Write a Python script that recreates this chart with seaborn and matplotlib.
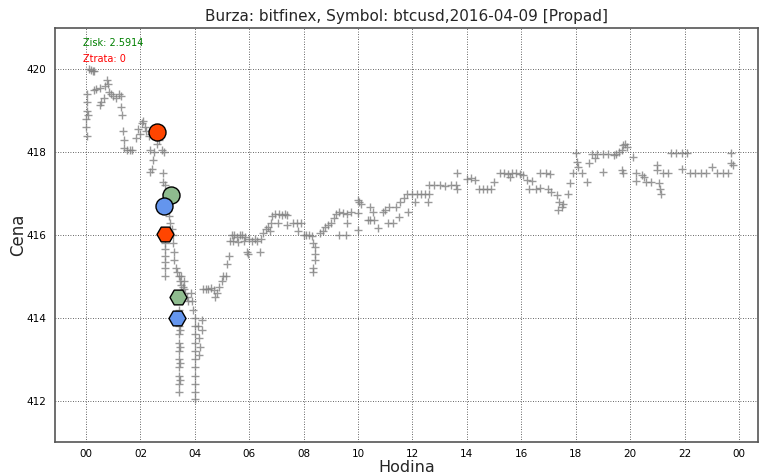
import matplotlib
matplotlib.use("Agg")
import matplotlib.pyplot as plt
import seaborn as sns
import pandas as pd
from matplotlib.ticker import FuncFormatter

# ---- data (hours of day, price) ----
hours = [
    0.00, 0.00, 0.02, 0.03, 0.05, 0.05, 0.08, 0.12, 0.18, 0.25, 0.30,
    0.30, 0.35, 0.50, 0.50, 0.55, 0.65, 0.70, 0.78, 0.82, 0.85, 0.90, 1.00,
    1.10, 1.20, 1.28, 1.30, 1.32, 1.35, 1.38, 1.40, 1.50, 1.60, 1.70,
    1.85, 1.90, 2.00, 2.05, 2.10, 2.15, 2.20, 2.30, 2.40, 2.50,
    2.35, 2.50, 2.60, 2.70, 2.80, 2.85, 2.45, 2.42, 2.35, 2.83, 2.83,
    2.90, 2.95, 3.00, 3.00, 3.05, 3.10, 3.15, 3.20,
    2.90, 2.90, 2.90, 2.90, 2.90, 2.90, 2.90,
    3.20, 3.22, 3.25, 3.30, 3.35, 3.40, 3.45, 3.50, 3.55, 3.60, 3.50, 3.60,
    3.65, 3.70, 3.75,
    3.40, 3.40, 3.42, 3.40, 3.40, 3.40, 3.42, 3.40, 3.40, 3.42, 3.45, 3.45,
    3.45, 3.45,
    3.85, 3.90, 3.95, 4.00, 4.00, 4.00, 4.00, 4.02, 4.00, 4.00, 4.02, 4.00,
    4.00, 4.00,
    4.10, 4.15, 4.20, 4.15, 4.25, 4.26,
    4.30, 4.40, 4.50, 4.60, 4.70, 4.75, 4.80, 4.90, 5.00, 5.05, 5.15, 5.20,
    5.25, 5.30, 5.35, 5.45, 5.55, 5.65, 5.75, 5.85, 5.40, 5.60, 5.80, 5.90,
    5.95, 6.00, 6.10, 6.20, 6.30, 6.40, 6.45, 6.50, 6.60, 6.70, 6.75, 6.80,
    6.85, 6.95, 7.10, 7.20, 7.30, 7.40, 7.05, 7.40, 7.60, 7.75, 7.90, 7.80,
    8.00, 8.10, 8.20, 8.30, 8.35, 8.40, 8.40, 8.40, 8.35, 8.35, 8.60, 8.70,
    8.80, 8.90, 9.00, 9.10, 9.20, 9.30, 9.45, 9.60, 9.75, 9.30, 9.55, 9.60,
    10.00, 10.05, 10.10, 10.00, 10.00, 10.45, 10.55, 10.35, 10.45, 10.60,
    10.75, 10.90, 11.00, 11.15, 11.10, 11.30, 11.40, 11.55, 11.70, 11.80,
    11.50, 11.85, 12.00, 12.15, 12.30, 12.45, 12.60, 12.10, 12.57, 12.60,
    12.80, 13.00, 13.20, 13.40, 13.60, 13.65, 13.65, 14.00, 14.15, 14.30,
    14.45, 14.60, 14.75, 14.90, 15.00, 15.20, 15.35, 15.50, 15.65, 15.80,
    15.95, 16.05, 15.60, 16.20, 16.40, 16.30, 16.55, 16.70, 16.90, 17.05,
    16.70, 17.00, 17.10, 17.30, 17.40, 17.50, 17.35, 17.55, 17.70, 17.80,
    17.90, 18.00, 18.05, 18.10, 18.25, 18.40, 18.50, 18.70, 18.60, 18.80,
    19.00, 19.20, 19.40, 19.00, 19.50, 19.60, 19.70, 19.75, 19.80, 19.90,
    19.70, 19.75, 20.10, 20.20, 20.20, 20.45, 20.50, 20.60, 20.75, 21.00,
    21.00, 21.20, 21.40, 21.05, 21.10, 21.15, 21.50, 21.70, 21.90, 22.10,
    21.90, 22.20, 22.40, 22.60, 22.80, 23.00, 23.20, 23.40, 23.60, 23.70,
    23.70, 23.80,
]
prices = [
    418.6, 418.8, 419.0, 418.4, 419.2, 419.4, 418.9, 420.0, 419.98, 419.95, 419.97,
    419.5, 419.52, 419.55, 419.15, 419.2, 419.3, 419.6, 419.75, 419.65, 419.45, 419.4, 419.35,
    419.3, 419.4, 419.35, 419.1, 418.9, 418.5, 418.3, 418.1, 418.05, 418.05, 418.05,
    418.35, 418.55, 418.45, 418.7, 418.75, 418.6, 418.5, 418.4, 418.45, 418.5,
    418.05, 418.0, 418.2, 418.3, 418.05, 418.0, 417.8, 417.6, 417.52, 417.5, 417.28,
    417.2, 417.0, 416.85, 416.6, 416.45, 416.3, 416.15, 416.0,
    416.0, 415.8, 415.65, 415.5, 415.35, 415.2, 415.0,
    415.8, 415.6, 415.4, 415.2, 415.1, 415.0, 414.9, 414.8, 414.75, 414.7, 415.0, 414.9,
    414.6, 414.5, 414.4,
    414.2, 413.8, 413.6, 413.4, 413.2, 413.0, 412.8, 412.6, 412.4, 412.2, 413.7, 413.3,
    412.9, 412.5,
    414.6, 414.4, 414.2, 414.0, 413.8, 413.6, 413.4, 413.2, 413.0, 412.8, 412.6, 412.4,
    412.2, 412.05,
    413.8, 413.5, 413.3, 413.1, 413.7, 413.95,
    414.7, 414.7, 414.7, 414.72, 414.68, 414.5, 414.6, 414.75, 414.9, 415.0, 415.0, 415.3,
    415.5, 415.85, 416.0, 416.0, 415.95, 416.0, 416.0, 415.95, 415.85, 415.82, 415.85, 415.6,
    415.55, 415.9, 415.85, 415.9, 415.85, 415.6, 415.9, 416.05, 416.15, 416.2, 416.1, 416.3,
    416.45, 416.5, 416.5, 416.48, 416.5, 416.48, 416.3, 416.25, 416.3, 416.28, 416.3, 416.1,
    416.0, 416.0, 416.0, 415.98, 415.8, 415.7, 415.55, 415.4, 415.2, 415.1, 416.05, 416.1,
    416.2, 416.25, 416.3, 416.4, 416.5, 416.55, 416.53, 416.5, 416.55, 416.0, 416.0, 416.28,
    416.85, 416.8, 416.75, 416.53, 416.12, 416.67, 416.55, 416.36, 416.36, 416.36,
    416.17, 416.55, 416.6, 416.67, 416.3, 416.3, 416.67, 416.8, 416.9, 416.98,
    416.43, 416.55, 417.0, 417.0, 417.0, 417.0, 417.0, 416.8, 416.8, 417.2,
    417.2, 417.2, 417.18, 417.2, 417.2, 417.5, 417.1, 417.35, 417.38, 417.33,
    417.12, 417.1, 417.12, 417.1, 417.28, 417.5, 417.5, 417.48, 417.5, 417.5,
    417.48, 417.45, 417.4, 417.33, 417.3, 417.1, 417.1, 417.5, 417.5, 417.48,
    417.13, 417.1, 417.05, 416.96, 416.8, 416.67, 416.6, 416.75, 417.0, 417.25,
    417.5, 417.98, 417.76, 417.64, 417.5, 417.28, 417.73, 417.85, 417.95, 417.95,
    417.95, 417.95, 417.93, 417.52, 417.95, 418.0, 418.05, 418.17, 418.2, 418.12,
    417.57, 417.5, 417.88, 417.5, 417.3, 417.45, 417.4, 417.28, 417.28, 417.7,
    417.57, 417.5, 417.5, 417.25, 417.1, 417.0, 417.98, 417.98, 417.98, 417.97,
    417.6, 417.5, 417.5, 417.5, 417.5, 417.64, 417.5, 417.5, 417.5, 417.98,
    417.75, 417.7,
]

# special trade markers
circle_hours = [2.61, 3.13, 2.87]
circle_prices = [418.48, 416.96, 416.70]
circle_colors = ["#FF4500", "#8FBC8F", "#6495ED"]
hex_hours = [2.90, 3.38, 3.35]
hex_prices = [416.02, 414.50, 414.00]
hex_colors = ["#FF4500", "#8FBC8F", "#6495ED"]

title = "Burza: bitfinex, Symbol: btcusd,2016-04-09 [Propad]"
xlabel = "Hodina"
ylabel = "Cena"
profit_text = "Zisk: 2.5914"
loss_text = "Ztrata: 0"
x_ticks = list(range(0, 25, 2))
y_ticks = [412, 414, 416, 418, 420]

sns.set_style("white")
plt.rcParams["font.family"] = ["DejaVu Sans"]

fig = plt.figure(figsize=(7.61, 4.74), dpi=100)
ax = fig.add_axes([0.0723, 0.0675, 0.9237, 0.8735])

df = pd.DataFrame({"hour": hours, "price": prices})
sns.scatterplot(data=df, x="hour", y="price", marker="+", color="#808080",
                s=36, linewidth=1.0, alpha=0.8, ax=ax, zorder=3)

for hx, hy, c in zip(circle_hours, circle_prices, circle_colors):
    sns.scatterplot(x=[hx], y=[hy], marker="o", s=150, color=c,
                    edgecolor="black", linewidth=1.0, ax=ax, zorder=4)
for hx, hy, c in zip(hex_hours, hex_prices, hex_colors):
    sns.scatterplot(x=[hx], y=[hy], marker="H", s=150, color=c,
                    edgecolor="black", linewidth=1.0, ax=ax, zorder=4)

ax.set_xlim(-1.14, 24.7)
ax.set_ylim(411, 421)
ax.set_xticks(x_ticks)
ax.set_yticks(y_ticks)
ax.xaxis.set_major_formatter(FuncFormatter(lambda v, p: "%02d" % (int(round(v)) % 24)))
ax.yaxis.set_major_formatter(FuncFormatter(lambda v, p: "%d" % v))
ax.tick_params(axis="both", labelsize=7.5, length=3, width=0.8, direction="out",
               colors="black")
ax.tick_params(axis="x", length=0, pad=5)

ax.grid(True, color="black", linestyle=(0, (1, 2)), linewidth=0.6, alpha=0.8)
ax.set_axisbelow(True)
for s in ax.spines.values():
    s.set_visible(True)
    s.set_color("#555555")
    s.set_linewidth(1.2)

ax.set_title(title, fontsize=11, pad=5)
ax.set_xlabel(xlabel, fontsize=11.5)
ax.set_ylabel(ylabel, fontsize=12)
ax.xaxis.set_label_coords(0.5, -0.043)
ax.yaxis.set_label_coords(-0.053, 0.5)
ax.xaxis.label.set_va("top")
ax.yaxis.label.set_va("center")

ax.text(0.04, 0.963, profit_text, transform=ax.transAxes, color="green",
        fontsize=7, va="center", ha="left")
ax.text(0.04, 0.925, loss_text, transform=ax.transAxes, color="red",
        fontsize=7, va="center", ha="left")

fig.savefig("out.png", dpi=100)
